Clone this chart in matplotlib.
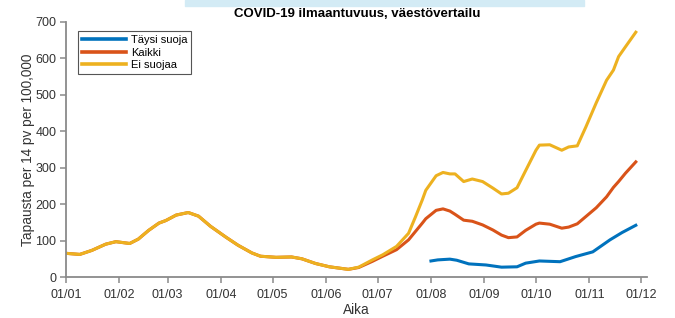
import numpy as np
import pandas as pd
import matplotlib
matplotlib.use("Agg")
import matplotlib.pyplot as plt
import matplotlib.dates as mdates
from matplotlib.patches import Rectangle

plt.rcParams['font.family'] = ['Liberation Sans', 'DejaVu Sans']

# Kaikki / Ei suojaa share the same dates
dates = ["2021-01-01", "2021-01-09", "2021-01-16", "2021-01-24", "2021-01-30",
         "2021-02-07", "2021-02-12", "2021-02-18", "2021-02-24", "2021-02-28",
         "2021-03-06", "2021-03-13", "2021-03-19", "2021-03-26", "2021-04-04",
         "2021-04-11", "2021-04-19", "2021-04-24", "2021-05-03", "2021-05-12",
         "2021-05-18", "2021-05-26", "2021-06-03", "2021-06-14", "2021-06-20",
         "2021-06-28", "2021-07-04", "2021-07-12", "2021-07-19", "2021-07-23",
         "2021-07-27", "2021-07-29", "2021-08-04", "2021-08-08", "2021-08-12",
         "2021-08-15", "2021-08-20", "2021-08-25", "2021-08-31", "2021-09-06",
         "2021-09-11", "2021-09-15", "2021-09-20", "2021-09-25", "2021-10-01",
         "2021-10-03", "2021-10-09", "2021-10-16", "2021-10-20", "2021-10-25",
         "2021-10-30", "2021-11-05", "2021-11-11", "2021-11-15", "2021-11-18",
         "2021-11-22", "2021-11-28"]

ei_suojaa = [65, 62, 73, 90, 97, 92, 104, 128, 148, 155,
             170, 177, 167, 139, 109, 87, 66, 57, 54, 55,
             50, 37, 28, 21, 27, 47, 61, 84, 120, 165,
             212, 238, 278, 287, 283, 283, 262, 269, 262, 244,
             228, 230, 245, 292, 348, 362, 363, 348, 357, 360,
             412, 478, 540, 568, 605, 632, 672]

kaikki = [65, 62, 73, 90, 97, 92, 104, 128, 148, 155,
          170, 177, 167, 139, 109, 87, 66, 57, 54, 55,
          50, 37, 28, 21, 26, 43, 57, 75, 102, 125,
          148, 160, 183, 187, 181, 172, 156, 153, 143, 129,
          115, 108, 110, 128, 145, 148, 145, 134, 137, 146,
          166, 190, 220, 246, 262, 285, 316]

dates_taysi = ["2021-08-01", "2021-08-05", "2021-08-12", "2021-08-16", "2021-08-23",
               "2021-09-02", "2021-09-11", "2021-09-20", "2021-09-25", "2021-10-03",
               "2021-10-15", "2021-10-24", "2021-11-03", "2021-11-13", "2021-11-20",
               "2021-11-28"]
taysi_suoja = [44, 47, 49, 46, 36, 33, 27, 28, 38, 44, 42, 56, 69, 102, 122, 142]

x_all = pd.to_datetime(dates)
x_taysi = pd.to_datetime(dates_taysi)

fig = plt.figure(figsize=(6.75, 3.18), dpi=100)
ax = fig.add_axes([66 / 675, 1 - 277 / 318, 581 / 675, 255 / 318])

# light blue strip at the very top
fig.patches.append(Rectangle((185 / 675, 1 - 5.5 / 318), 399 / 675, 5.5 / 318,
                             transform=fig.transFigure, color='#d3ebf5', zorder=0))

ax.plot(x_taysi, taysi_suoja, color='#0072BD', lw=2.2, label='Täysi suoja')
ax.plot(x_all, kaikki, color='#D95319', lw=2.2, label='Kaikki')
ax.plot(x_all, ei_suojaa, color='#EDB120', lw=2.2, label='Ei suojaa')

ax.set_ylim(0, 700)
ax.set_xlim(pd.Timestamp("2021-01-01"), pd.Timestamp("2021-12-04 12:00"))
ax.set_yticks(np.arange(0, 701, 100))
ax.xaxis.set_major_locator(mdates.MonthLocator())
ax.xaxis.set_major_formatter(mdates.DateFormatter('%d/%m'))

for side in ['top', 'right']:
    ax.spines[side].set_visible(False)
for side in ['left', 'bottom']:
    ax.spines[side].set_color('#8a8a8a')
    ax.spines[side].set_linewidth(1.3)
ax.tick_params(direction='out', length=4, width=1.1, color='#8a8a8a',
               labelsize=9, labelcolor='#333333', pad=3)
ax.tick_params(axis='x', pad=5)

ax.set_ylabel('Tapausta per 14 pv per 100,000', fontsize=9.8, color='#333333', labelpad=0.5)
ax.set_xlabel('Aika', fontsize=9.8, color='#333333', labelpad=1)

fig.text(357 / 675, 1 - 14 / 318, 'COVID-19 ilmaantuvuus, väestövertailu',
         ha='center', va='center', fontsize=9.5, fontweight='bold')

leg = ax.legend(loc='upper left', bbox_to_anchor=(0.02, 0.963), borderaxespad=0,
                fontsize=8, handlelength=4.0, handletextpad=0.45, labelspacing=0.2,
                fancybox=False, framealpha=1, borderpad=0.35)
leg.get_frame().set_edgecolor('#555555')
leg.get_frame().set_linewidth(0.8)
for line in leg.get_lines():
    line.set_linewidth(2.6)

fig.savefig('out.png', dpi=100)
